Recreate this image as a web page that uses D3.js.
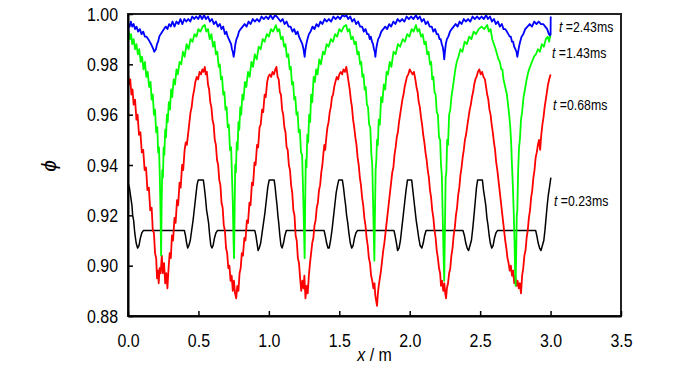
<!DOCTYPE html>
<html>
<head>
<meta charset="utf-8">
<script src="https://cdn.jsdelivr.net/npm/d3@7"></script>
<style>
  html, body { margin: 0; padding: 0; background: #fff; }
  svg { display: block; }
  .tk text { font-family: "Liberation Sans", Arial, sans-serif; font-size: 19px; fill: #000; }
  .lbl { font-family: "Liberation Sans", Arial, sans-serif; fill: #000; }
</style>
</head>
<body>
<svg id="chart" width="700" height="365"></svg>
<script>
// ---------- data ----------
const xTickValues = [0.0, 0.5, 1.0, 1.5, 2.0, 2.5, 3.0, 3.5];
const yTickValues = [0.88, 0.90, 0.92, 0.94, 0.96, 0.98, 1.00];
const seriesNames = ["t=0.23ms", "t=0.68ms", "t=1.43ms", "t=2.43ms"];
const seriesTimes = ["0.23", "0.68", "1.43", "2.43"];

const phi023 = [
[0.000,0.933],[0.010,0.931],[0.020,0.927],[0.028,0.924],[0.033,0.920],[0.040,0.918],[0.048,0.913],[0.058,0.909],[0.068,0.907],[0.078,0.908],[0.088,0.911],[0.098,0.913],[0.110,0.914],
[0.400,0.914],[0.408,0.912],[0.416,0.909],[0.424,0.907],[0.432,0.908],[0.442,0.910],[0.452,0.914],[0.462,0.918],[0.472,0.923],[0.482,0.928],[0.490,0.932],[0.498,0.934],[0.535,0.934],[0.542,0.931],[0.550,0.927],[0.558,0.922],[0.564,0.920],[0.572,0.917],[0.580,0.912],[0.588,0.908],[0.596,0.907],[0.604,0.908],[0.614,0.911],[0.624,0.913],[0.636,0.914],
[0.900,0.914],[0.908,0.912],[0.916,0.909],[0.924,0.906],[0.932,0.907],[0.942,0.909],[0.952,0.913],[0.962,0.917],[0.972,0.921],[0.982,0.926],[0.992,0.931],[1.002,0.934],[1.038,0.934],[1.045,0.931],[1.052,0.927],[1.058,0.924],[1.064,0.920],[1.070,0.917],[1.078,0.912],[1.086,0.908],[1.094,0.907],[1.104,0.909],[1.114,0.912],[1.124,0.914],
[1.392,0.914],[1.400,0.912],[1.410,0.909],[1.420,0.907],[1.428,0.907],[1.438,0.910],[1.448,0.914],[1.458,0.919],[1.468,0.924],[1.478,0.929],[1.488,0.932],[1.496,0.934],[1.522,0.934],[1.530,0.931],[1.538,0.927],[1.545,0.924],[1.552,0.920],[1.560,0.917],[1.568,0.913],[1.578,0.909],[1.588,0.907],[1.598,0.908],[1.608,0.911],[1.618,0.913],[1.630,0.914],
[1.888,0.914],[1.896,0.912],[1.906,0.909],[1.914,0.906],[1.924,0.907],[1.934,0.910],[1.944,0.915],[1.954,0.920],[1.964,0.925],[1.974,0.930],[1.984,0.934],[2.014,0.934],[2.022,0.930],[2.030,0.926],[2.038,0.922],[2.046,0.918],[2.054,0.915],[2.064,0.911],[2.074,0.908],[2.086,0.907],[2.096,0.909],[2.106,0.912],[2.116,0.914],
[2.378,0.914],[2.388,0.912],[2.398,0.909],[2.408,0.907],[2.418,0.906],[2.428,0.908],[2.438,0.910],[2.448,0.915],[2.458,0.921],[2.466,0.926],[2.474,0.931],[2.482,0.934],[2.516,0.934],[2.524,0.930],[2.532,0.927],[2.540,0.924],[2.548,0.919],[2.556,0.916],[2.564,0.912],[2.572,0.909],[2.582,0.907],[2.592,0.908],[2.602,0.911],[2.612,0.913],[2.624,0.914],
[2.894,0.914],[2.902,0.912],[2.912,0.909],[2.922,0.907],[2.932,0.906],[2.942,0.908],[2.952,0.910],[2.960,0.914],[2.968,0.919],[2.976,0.924],[2.984,0.928],[2.992,0.931],[3.002,0.935]
];

const phi068 = [
[0.000,0.976],[0.008,0.972],[0.016,0.974],[0.024,0.968],[0.032,0.970],[0.040,0.964],[0.050,0.966],[0.060,0.958],[0.068,0.960],[0.078,0.952],[0.088,0.953],[0.098,0.945],[0.108,0.946],[0.118,0.938],[0.128,0.939],[0.138,0.930],[0.148,0.931],[0.158,0.922],[0.168,0.923],[0.176,0.914],[0.184,0.913],[0.192,0.905],[0.200,0.903],[0.206,0.895],[0.212,0.898],[0.218,0.893],[0.224,0.899],[0.232,0.897],[0.240,0.904],[0.248,0.897],[0.256,0.901],[0.264,0.893],[0.272,0.897],[0.280,0.891],[0.288,0.899],[0.296,0.905],[0.304,0.903],[0.312,0.912],[0.320,0.910],[0.330,0.919],[0.338,0.917],[0.348,0.926],[0.356,0.924],[0.366,0.933],[0.374,0.931],[0.384,0.940],[0.392,0.938],[0.402,0.946],[0.410,0.949],[0.418,0.948],[0.428,0.953],[0.436,0.957],[0.444,0.961],[0.452,0.963],[0.460,0.967],[0.470,0.970],[0.478,0.973],[0.488,0.975],[0.498,0.974],[0.508,0.977],[0.518,0.976],[0.528,0.978],[0.536,0.977],[0.545,0.979],[0.552,0.976],[0.560,0.977],[0.568,0.972],[0.576,0.970],[0.584,0.965],[0.592,0.963],[0.600,0.958],[0.608,0.956],[0.616,0.950],[0.624,0.948],[0.632,0.942],[0.640,0.940],[0.648,0.934],[0.656,0.932],[0.664,0.925],[0.672,0.923],[0.680,0.916],[0.688,0.914],[0.696,0.907],[0.704,0.905],[0.712,0.899],[0.720,0.900],[0.728,0.894],[0.736,0.896],[0.744,0.890],[0.752,0.894],[0.760,0.889],[0.768,0.887],[0.776,0.892],[0.784,0.890],[0.792,0.897],[0.800,0.899],[0.808,0.905],[0.816,0.904],[0.826,0.911],[0.834,0.910],[0.844,0.918],[0.852,0.917],[0.862,0.925],[0.870,0.924],[0.880,0.933],[0.888,0.932],[0.898,0.941],[0.906,0.940],[0.916,0.948],[0.924,0.947],[0.934,0.955],[0.942,0.956],[0.952,0.962],[0.960,0.961],[0.970,0.968],[0.978,0.967],[0.988,0.973],[0.996,0.975],
[1.006,0.976],[1.016,0.975],[1.026,0.977],[1.036,0.976],[1.046,0.978],[1.054,0.979],[1.062,0.975],[1.070,0.974],[1.078,0.969],[1.086,0.968],[1.094,0.962],[1.102,0.960],[1.110,0.955],[1.118,0.953],[1.126,0.947],[1.134,0.946],[1.142,0.940],[1.150,0.938],[1.158,0.932],[1.166,0.929],[1.174,0.922],[1.182,0.920],[1.190,0.912],[1.198,0.910],[1.206,0.903],[1.214,0.901],[1.222,0.895],[1.230,0.890],[1.238,0.894],[1.246,0.891],[1.252,0.896],[1.260,0.887],[1.268,0.892],[1.276,0.889],[1.284,0.896],[1.292,0.901],[1.300,0.905],[1.308,0.909],[1.316,0.911],[1.324,0.916],[1.332,0.918],[1.340,0.923],[1.348,0.925],[1.356,0.930],[1.364,0.932],[1.372,0.937],[1.380,0.940],[1.388,0.945],[1.394,0.948],[1.400,0.946],[1.408,0.951],[1.416,0.955],[1.424,0.957],[1.432,0.961],[1.440,0.963],[1.448,0.967],[1.456,0.968],[1.464,0.971],[1.472,0.973],[1.482,0.975],[1.492,0.974],
[1.500,0.976],[1.510,0.977],[1.520,0.976],[1.530,0.978],[1.540,0.977],[1.550,0.979],[1.558,0.976],[1.566,0.973],[1.574,0.970],[1.582,0.966],[1.590,0.963],[1.598,0.958],[1.606,0.955],[1.614,0.951],[1.622,0.948],[1.630,0.943],[1.638,0.940],[1.646,0.935],[1.654,0.932],[1.662,0.927],[1.670,0.924],[1.678,0.919],[1.686,0.916],[1.694,0.911],[1.702,0.908],[1.710,0.903],[1.718,0.901],[1.726,0.896],[1.734,0.894],[1.742,0.891],[1.750,0.893],[1.756,0.888],[1.762,0.886],[1.768,0.884],[1.774,0.889],[1.780,0.892],[1.788,0.895],[1.796,0.898],[1.804,0.902],[1.812,0.906],[1.820,0.909],[1.828,0.913],[1.836,0.917],[1.844,0.921],[1.852,0.925],[1.860,0.929],[1.868,0.933],[1.876,0.937],[1.884,0.939],[1.892,0.944],[1.900,0.947],[1.908,0.951],[1.916,0.953],[1.924,0.957],[1.932,0.960],[1.940,0.963],[1.948,0.966],[1.956,0.968],[1.964,0.971],[1.972,0.973],[1.980,0.975],[1.990,0.976],
[2.000,0.978],[2.010,0.977],[2.020,0.976],[2.030,0.977],[2.040,0.974],[2.048,0.971],[2.056,0.969],[2.064,0.965],[2.072,0.963],[2.080,0.959],[2.088,0.956],[2.096,0.952],[2.104,0.949],[2.112,0.945],[2.120,0.942],[2.128,0.938],[2.136,0.935],[2.144,0.930],[2.152,0.927],[2.160,0.922],[2.168,0.919],[2.176,0.914],[2.184,0.911],[2.192,0.906],[2.200,0.903],[2.208,0.899],[2.216,0.897],[2.222,0.892],[2.230,0.894],[2.238,0.890],[2.246,0.893],[2.252,0.889],[2.258,0.887],[2.264,0.891],[2.272,0.893],[2.280,0.897],[2.288,0.899],[2.296,0.904],[2.304,0.907],[2.312,0.912],[2.320,0.915],[2.328,0.920],[2.336,0.923],[2.344,0.928],[2.352,0.931],[2.360,0.936],[2.368,0.939],[2.376,0.943],[2.384,0.946],[2.392,0.950],[2.400,0.952],[2.410,0.956],[2.418,0.959],[2.426,0.962],[2.434,0.964],[2.442,0.967],[2.450,0.969],[2.458,0.972],[2.466,0.974],[2.474,0.975],[2.484,0.977],[2.494,0.978],
[2.504,0.976],[2.514,0.977],[2.524,0.975],[2.534,0.974],[2.542,0.971],[2.550,0.968],[2.558,0.966],[2.566,0.962],[2.574,0.960],[2.582,0.956],[2.590,0.953],[2.598,0.949],[2.606,0.946],[2.614,0.941],[2.622,0.938],[2.630,0.934],[2.638,0.930],[2.646,0.926],[2.654,0.922],[2.662,0.918],[2.670,0.914],[2.678,0.910],[2.686,0.907],[2.694,0.903],[2.702,0.901],[2.710,0.898],[2.718,0.900],[2.726,0.896],[2.734,0.898],[2.742,0.893],[2.750,0.896],[2.758,0.892],[2.766,0.894],[2.774,0.891],[2.782,0.893],[2.790,0.889],[2.798,0.896],[2.806,0.899],[2.814,0.904],[2.822,0.906],[2.830,0.911],[2.838,0.914],[2.846,0.919],[2.854,0.922],[2.862,0.927],[2.870,0.930],[2.878,0.935],[2.886,0.938],[2.894,0.943],[2.902,0.945],[2.910,0.948],[2.918,0.950],[2.926,0.946],[2.934,0.952],[2.942,0.956],[2.950,0.959],[2.958,0.963],[2.966,0.966],[2.974,0.969],[2.982,0.972],[2.990,0.974],[3.000,0.976]
];

const phi143 = [
[0.000,0.988],[0.006,0.993],[0.014,0.990],[0.022,0.992],[0.030,0.988],[0.040,0.990],[0.050,0.986],[0.060,0.988],[0.070,0.984],[0.080,0.986],[0.090,0.981],[0.100,0.983],[0.110,0.978],[0.120,0.981],[0.130,0.975],[0.140,0.977],[0.150,0.971],[0.160,0.973],[0.168,0.966],[0.176,0.968],[0.184,0.960],[0.192,0.962],[0.200,0.953],[0.208,0.955],[0.214,0.945],[0.220,0.947],[0.226,0.935],[0.231,0.920],[0.235,0.904],[0.239,0.925],[0.243,0.938],[0.248,0.935],[0.253,0.947],[0.258,0.944],[0.264,0.954],[0.270,0.951],[0.276,0.960],[0.282,0.957],[0.290,0.965],[0.298,0.962],[0.306,0.970],[0.314,0.967],[0.324,0.974],[0.334,0.972],[0.344,0.978],[0.354,0.976],[0.366,0.981],[0.378,0.980],[0.390,0.985],[0.402,0.983],[0.416,0.988],[0.430,0.986],[0.444,0.990],[0.458,0.989],[0.472,0.992],[0.486,0.991],[0.500,0.994],[0.514,0.993],[0.530,0.995],
[0.545,0.9956],[0.556,0.993],[0.568,0.994],[0.580,0.990],[0.592,0.992],[0.604,0.987],[0.614,0.989],[0.624,0.984],[0.634,0.985],[0.644,0.979],[0.652,0.980],[0.660,0.974],[0.668,0.975],[0.676,0.968],[0.684,0.969],[0.692,0.962],[0.700,0.963],[0.708,0.955],[0.716,0.956],[0.724,0.946],[0.732,0.947],[0.738,0.936],[0.744,0.925],[0.749,0.910],[0.753,0.903],[0.757,0.922],[0.761,0.940],[0.766,0.937],[0.772,0.949],[0.778,0.946],[0.784,0.957],[0.790,0.954],[0.797,0.963],[0.804,0.960],[0.812,0.968],[0.820,0.966],[0.830,0.973],[0.840,0.971],[0.852,0.977],[0.864,0.975],[0.876,0.981],[0.888,0.979],[0.900,0.984],[0.914,0.982],[0.928,0.987],[0.942,0.986],[0.956,0.990],[0.970,0.989],[0.985,0.992],[1.000,0.991],[1.015,0.994],[1.030,0.993],
[1.050,0.9956],[1.062,0.993],[1.074,0.994],[1.086,0.990],[1.098,0.991],[1.108,0.987],[1.118,0.988],[1.128,0.983],[1.138,0.984],[1.148,0.978],[1.156,0.979],[1.164,0.972],[1.172,0.973],[1.180,0.966],[1.188,0.967],[1.196,0.960],[1.204,0.961],[1.212,0.953],[1.220,0.954],[1.228,0.945],[1.236,0.944],[1.242,0.932],[1.248,0.918],[1.254,0.903],[1.258,0.925],[1.262,0.942],[1.267,0.939],[1.273,0.952],[1.279,0.949],[1.286,0.960],[1.293,0.957],[1.300,0.968],[1.308,0.965],[1.318,0.975],[1.327,0.973],[1.336,0.978],[1.346,0.976],[1.358,0.982],[1.370,0.980],[1.384,0.985],[1.396,0.984],[1.410,0.988],[1.424,0.987],[1.440,0.990],[1.455,0.989],[1.470,0.992],[1.485,0.991],[1.500,0.994],[1.515,0.993],[1.532,0.995],
[1.549,0.9956],[1.560,0.993],[1.572,0.994],[1.584,0.990],[1.596,0.991],[1.608,0.988],[1.618,0.989],[1.628,0.984],[1.638,0.985],[1.648,0.980],[1.656,0.981],[1.664,0.975],[1.672,0.976],[1.680,0.970],[1.688,0.971],[1.696,0.964],[1.704,0.963],[1.712,0.956],[1.720,0.955],[1.728,0.944],[1.734,0.940],[1.740,0.925],[1.745,0.912],[1.749,0.902],[1.753,0.920],[1.758,0.938],[1.763,0.942],[1.768,0.950],[1.774,0.948],[1.780,0.958],[1.788,0.956],[1.797,0.967],[1.806,0.965],[1.816,0.972],[1.826,0.970],[1.836,0.977],[1.846,0.976],[1.858,0.981],[1.870,0.979],[1.885,0.985],[1.900,0.984],[1.916,0.988],[1.932,0.987],[1.950,0.990],[1.966,0.989],[1.982,0.992],[1.998,0.991],[2.014,0.994],[2.028,0.993],
[2.044,0.9956],[2.056,0.993],[2.068,0.994],[2.080,0.991],[2.092,0.992],[2.104,0.988],[2.114,0.989],[2.124,0.984],[2.134,0.985],[2.144,0.980],[2.152,0.981],[2.160,0.974],[2.168,0.975],[2.176,0.969],[2.184,0.968],[2.192,0.961],[2.200,0.960],[2.208,0.951],[2.216,0.950],[2.222,0.940],[2.228,0.936],[2.234,0.920],[2.240,0.905],[2.245,0.894],[2.250,0.915],[2.255,0.935],[2.260,0.937],[2.266,0.950],[2.272,0.948],[2.280,0.960],[2.288,0.962],[2.296,0.967],[2.304,0.970],[2.314,0.974],[2.324,0.978],[2.334,0.981],[2.346,0.983],[2.360,0.986],[2.374,0.985],[2.390,0.989],[2.406,0.988],[2.422,0.991],[2.438,0.990],[2.454,0.993],[2.470,0.992],[2.490,0.994],[2.510,0.995],[2.530,0.994],
[2.550,0.9956],[2.562,0.993],[2.574,0.994],[2.586,0.990],[2.598,0.988],[2.610,0.986],[2.620,0.984],[2.630,0.982],[2.640,0.981],[2.650,0.978],[2.658,0.978],[2.666,0.974],[2.674,0.972],[2.682,0.970],[2.690,0.968],[2.698,0.964],[2.706,0.960],[2.714,0.955],[2.720,0.949],[2.726,0.940],[2.732,0.932],[2.738,0.922],[2.744,0.910],[2.748,0.898],[2.752,0.892],[2.756,0.905],[2.760,0.920],[2.764,0.922],[2.770,0.938],[2.776,0.947],[2.782,0.950],[2.790,0.958],[2.798,0.961],[2.808,0.967],[2.818,0.970],[2.830,0.974],[2.842,0.977],[2.854,0.979],[2.868,0.981],[2.882,0.983],[2.896,0.984],[2.910,0.986],[2.924,0.985],[2.938,0.988],[2.952,0.987],[2.966,0.990],[2.980,0.991],[2.990,0.989],[3.000,0.992]
];

const phi243 = [
[0.000,0.989],[0.004,0.996],[0.012,0.995],[0.020,0.997],[0.030,0.995],[0.040,0.996],[0.050,0.994],[0.060,0.995],[0.072,0.993],[0.084,0.994],[0.096,0.992],[0.108,0.993],[0.120,0.991],[0.132,0.991],[0.144,0.990],[0.154,0.989],[0.164,0.988],[0.172,0.987],[0.180,0.986],[0.186,0.985],[0.192,0.9855],[0.198,0.986],[0.206,0.988],[0.214,0.989],[0.222,0.991],[0.232,0.992],[0.244,0.993],[0.256,0.994],[0.268,0.995],[0.280,0.994],[0.292,0.996],[0.304,0.995],[0.316,0.997],[0.330,0.995],[0.344,0.997],[0.358,0.996],[0.372,0.998],[0.386,0.996],[0.400,0.998],[0.414,0.997],[0.428,0.998],[0.442,0.997],[0.456,0.999],[0.470,0.998],[0.484,0.999],[0.498,0.998],[0.512,0.9995],[0.526,0.998],[0.540,0.9995],
[0.554,0.998],[0.568,0.999],[0.582,0.997],[0.596,0.998],[0.610,0.996],[0.624,0.997],[0.638,0.995],[0.652,0.996],[0.664,0.994],[0.676,0.995],[0.688,0.992],[0.698,0.993],[0.708,0.991],[0.716,0.990],[0.724,0.989],[0.732,0.988],[0.738,0.986],[0.744,0.985],[0.750,0.983],[0.756,0.985],[0.762,0.988],[0.770,0.990],[0.778,0.991],[0.788,0.993],[0.800,0.994],[0.814,0.995],[0.828,0.996],[0.842,0.995],[0.856,0.997],[0.870,0.996],[0.886,0.998],[0.900,0.997],[0.916,0.998],[0.932,0.997],[0.948,0.999],[0.964,0.998],[0.980,0.999],[0.996,0.998],[1.012,0.9995],[1.028,0.998],[1.044,0.9995],
[1.056,0.999],[1.070,0.998],[1.084,0.997],[1.098,0.998],[1.112,0.996],[1.126,0.997],[1.140,0.995],[1.154,0.995],[1.168,0.993],[1.180,0.994],[1.192,0.992],[1.204,0.993],[1.214,0.991],[1.222,0.990],[1.230,0.989],[1.238,0.988],[1.246,0.986],[1.254,0.983],[1.260,0.986],[1.266,0.988],[1.274,0.990],[1.284,0.992],[1.296,0.993],[1.310,0.995],[1.324,0.994],[1.338,0.996],[1.352,0.995],[1.366,0.997],[1.380,0.996],[1.396,0.998],[1.410,0.997],[1.426,0.998],[1.442,0.997],[1.458,0.999],[1.474,0.998],[1.490,0.999],[1.506,0.998],[1.522,0.9995],[1.538,0.999],[1.550,0.9995],
[1.564,0.998],[1.578,0.999],[1.592,0.997],[1.606,0.998],[1.620,0.996],[1.634,0.997],[1.648,0.995],[1.662,0.995],[1.674,0.993],[1.686,0.994],[1.698,0.992],[1.708,0.992],[1.716,0.990],[1.724,0.991],[1.732,0.989],[1.740,0.988],[1.746,0.986],[1.752,0.985],[1.756,0.983],[1.762,0.986],[1.768,0.988],[1.776,0.990],[1.786,0.991],[1.798,0.993],[1.812,0.994],[1.826,0.995],[1.840,0.994],[1.854,0.996],[1.868,0.995],[1.884,0.997],[1.898,0.996],[1.914,0.998],[1.930,0.997],[1.946,0.998],[1.962,0.997],[1.978,0.999],[1.994,0.998],[2.010,0.999],[2.026,0.998],[2.044,0.9995],
[2.058,0.998],[2.072,0.999],[2.086,0.997],[2.100,0.998],[2.114,0.996],[2.128,0.997],[2.142,0.995],[2.156,0.995],[2.168,0.993],[2.180,0.994],[2.192,0.992],[2.202,0.992],[2.212,0.990],[2.220,0.990],[2.228,0.988],[2.234,0.987],[2.240,0.985],[2.245,0.982],[2.250,0.985],[2.256,0.988],[2.264,0.990],[2.274,0.991],[2.286,0.993],[2.298,0.994],[2.312,0.995],[2.326,0.996],[2.340,0.995],[2.354,0.997],[2.368,0.996],[2.384,0.998],[2.398,0.997],[2.414,0.998],[2.430,0.997],[2.446,0.999],[2.462,0.998],[2.478,0.999],[2.494,0.998],[2.510,0.999],[2.526,0.998],[2.542,0.9995],
[2.556,0.998],[2.570,0.999],[2.584,0.997],[2.598,0.998],[2.612,0.996],[2.626,0.997],[2.640,0.995],[2.654,0.996],[2.666,0.994],[2.678,0.994],[2.690,0.993],[2.700,0.992],[2.710,0.991],[2.718,0.991],[2.726,0.989],[2.734,0.989],[2.742,0.987],[2.750,0.986],[2.758,0.985],[2.764,0.983],[2.770,0.985],[2.776,0.987],[2.784,0.989],[2.794,0.991],[2.806,0.992],[2.820,0.994],[2.836,0.995],[2.852,0.996],[2.868,0.995],[2.884,0.997],[2.900,0.996],[2.916,0.997],[2.932,0.996],[2.948,0.996],[2.962,0.995],[2.976,0.994],[2.988,0.992],[2.996,0.9915],[3.000,0.992],[3.001,0.999]
];

const seriesData = [phi023, phi068, phi143, phi243];
const seriesColors = ["#000000", "#ff0000", "#00ff00", "#0000ff"];

// ---------- drawing ----------
const NARROW = 0.84;   // emulate the condensed face of the original
const svg = d3.select("#chart");
svg.append("rect").attr("width", 700).attr("height", 365).attr("fill", "#fff");

const x = d3.scaleLinear().domain([0, 3.5]).range([128, 621]);
const y = d3.scaleLinear().domain([0.88, 1.00]).range([316, 14]);

const line = d3.line().x(d => x(d[0])).y(d => y(d[1]));

const plot = svg.append("g");
seriesData.forEach((s, i) => {
  plot.append("path")
    .datum(s)
    .attr("fill", "none")
    .attr("stroke", seriesColors[i])
    .attr("stroke-width", i === 0 ? 1.5 : 1.8)
    .attr("stroke-linejoin", "round")
    .attr("d", line);
});

// frame (top / right)
svg.append("rect")
  .attr("x", x(0)).attr("y", y(1.00))
  .attr("width", x(3.5) - x(0)).attr("height", y(0.88) - y(1.00))
  .attr("fill", "none").attr("stroke", "#222").attr("stroke-width", 2);

// axes
const xAxis = d3.axisBottom(x).tickValues(xTickValues).tickFormat(d3.format(".1f"))
  .tickSizeInner(-5).tickSizeOuter(0).tickPadding(18);
const yAxis = d3.axisLeft(y).tickValues(yTickValues).tickFormat(d3.format(".2f"))
  .tickSizeInner(-5).tickSizeOuter(0).tickPadding(10);

const gx = svg.append("g").attr("class", "tk").attr("transform", `translate(0,${y(0.88)})`).call(xAxis);
const gy = svg.append("g").attr("class", "tk").attr("transform", `translate(${x(0)},0)`).call(yAxis);
[gx, gy].forEach(g => {
  g.attr("font-family", null).attr("font-size", null);
  g.select(".domain").attr("stroke", "#000").attr("stroke-width", 2);
  g.selectAll(".tick line").attr("stroke", "#000").attr("stroke-width", 1.5);
});
gx.selectAll(".tick text").attr("transform", `scale(${NARROW},1)`);
gy.selectAll(".tick text").attr("transform", `translate(-10,0) scale(${NARROW},1) translate(10,0)`);

// axis titles
svg.append("text").attr("class", "lbl")
  .attr("transform", "translate(56,166) rotate(-90)")
  .attr("text-anchor", "middle")
  .attr("font-size", 21).attr("font-style", "italic")
  .text("ϕ");

const xc = (x(0) + x(3.5)) / 2;
const xt = svg.append("text").attr("class", "lbl")
  .attr("x", 0).attr("y", 0)
  .attr("transform", `translate(${xc},361) scale(${NARROW},1)`)
  .attr("text-anchor", "middle").attr("font-size", 19);
xt.append("tspan").attr("font-style", "italic").text("x");
xt.append("tspan").text(" / m");

// series labels
const labelPos = [[554, 206], [553, 110], [552, 58], [559, 32]];
seriesTimes.forEach((t, i) => {
  const tx = svg.append("text").attr("class", "lbl")
    .attr("x", 0).attr("y", 0)
    .attr("transform", `translate(${labelPos[i][0]},${labelPos[i][1]}) scale(0.82,1)`)
    .attr("font-size", 15);
  tx.append("tspan").attr("font-style", "italic").text("t");
  tx.append("tspan").text(" =" + t + "ms");
});
</script>
</body>
</html>
